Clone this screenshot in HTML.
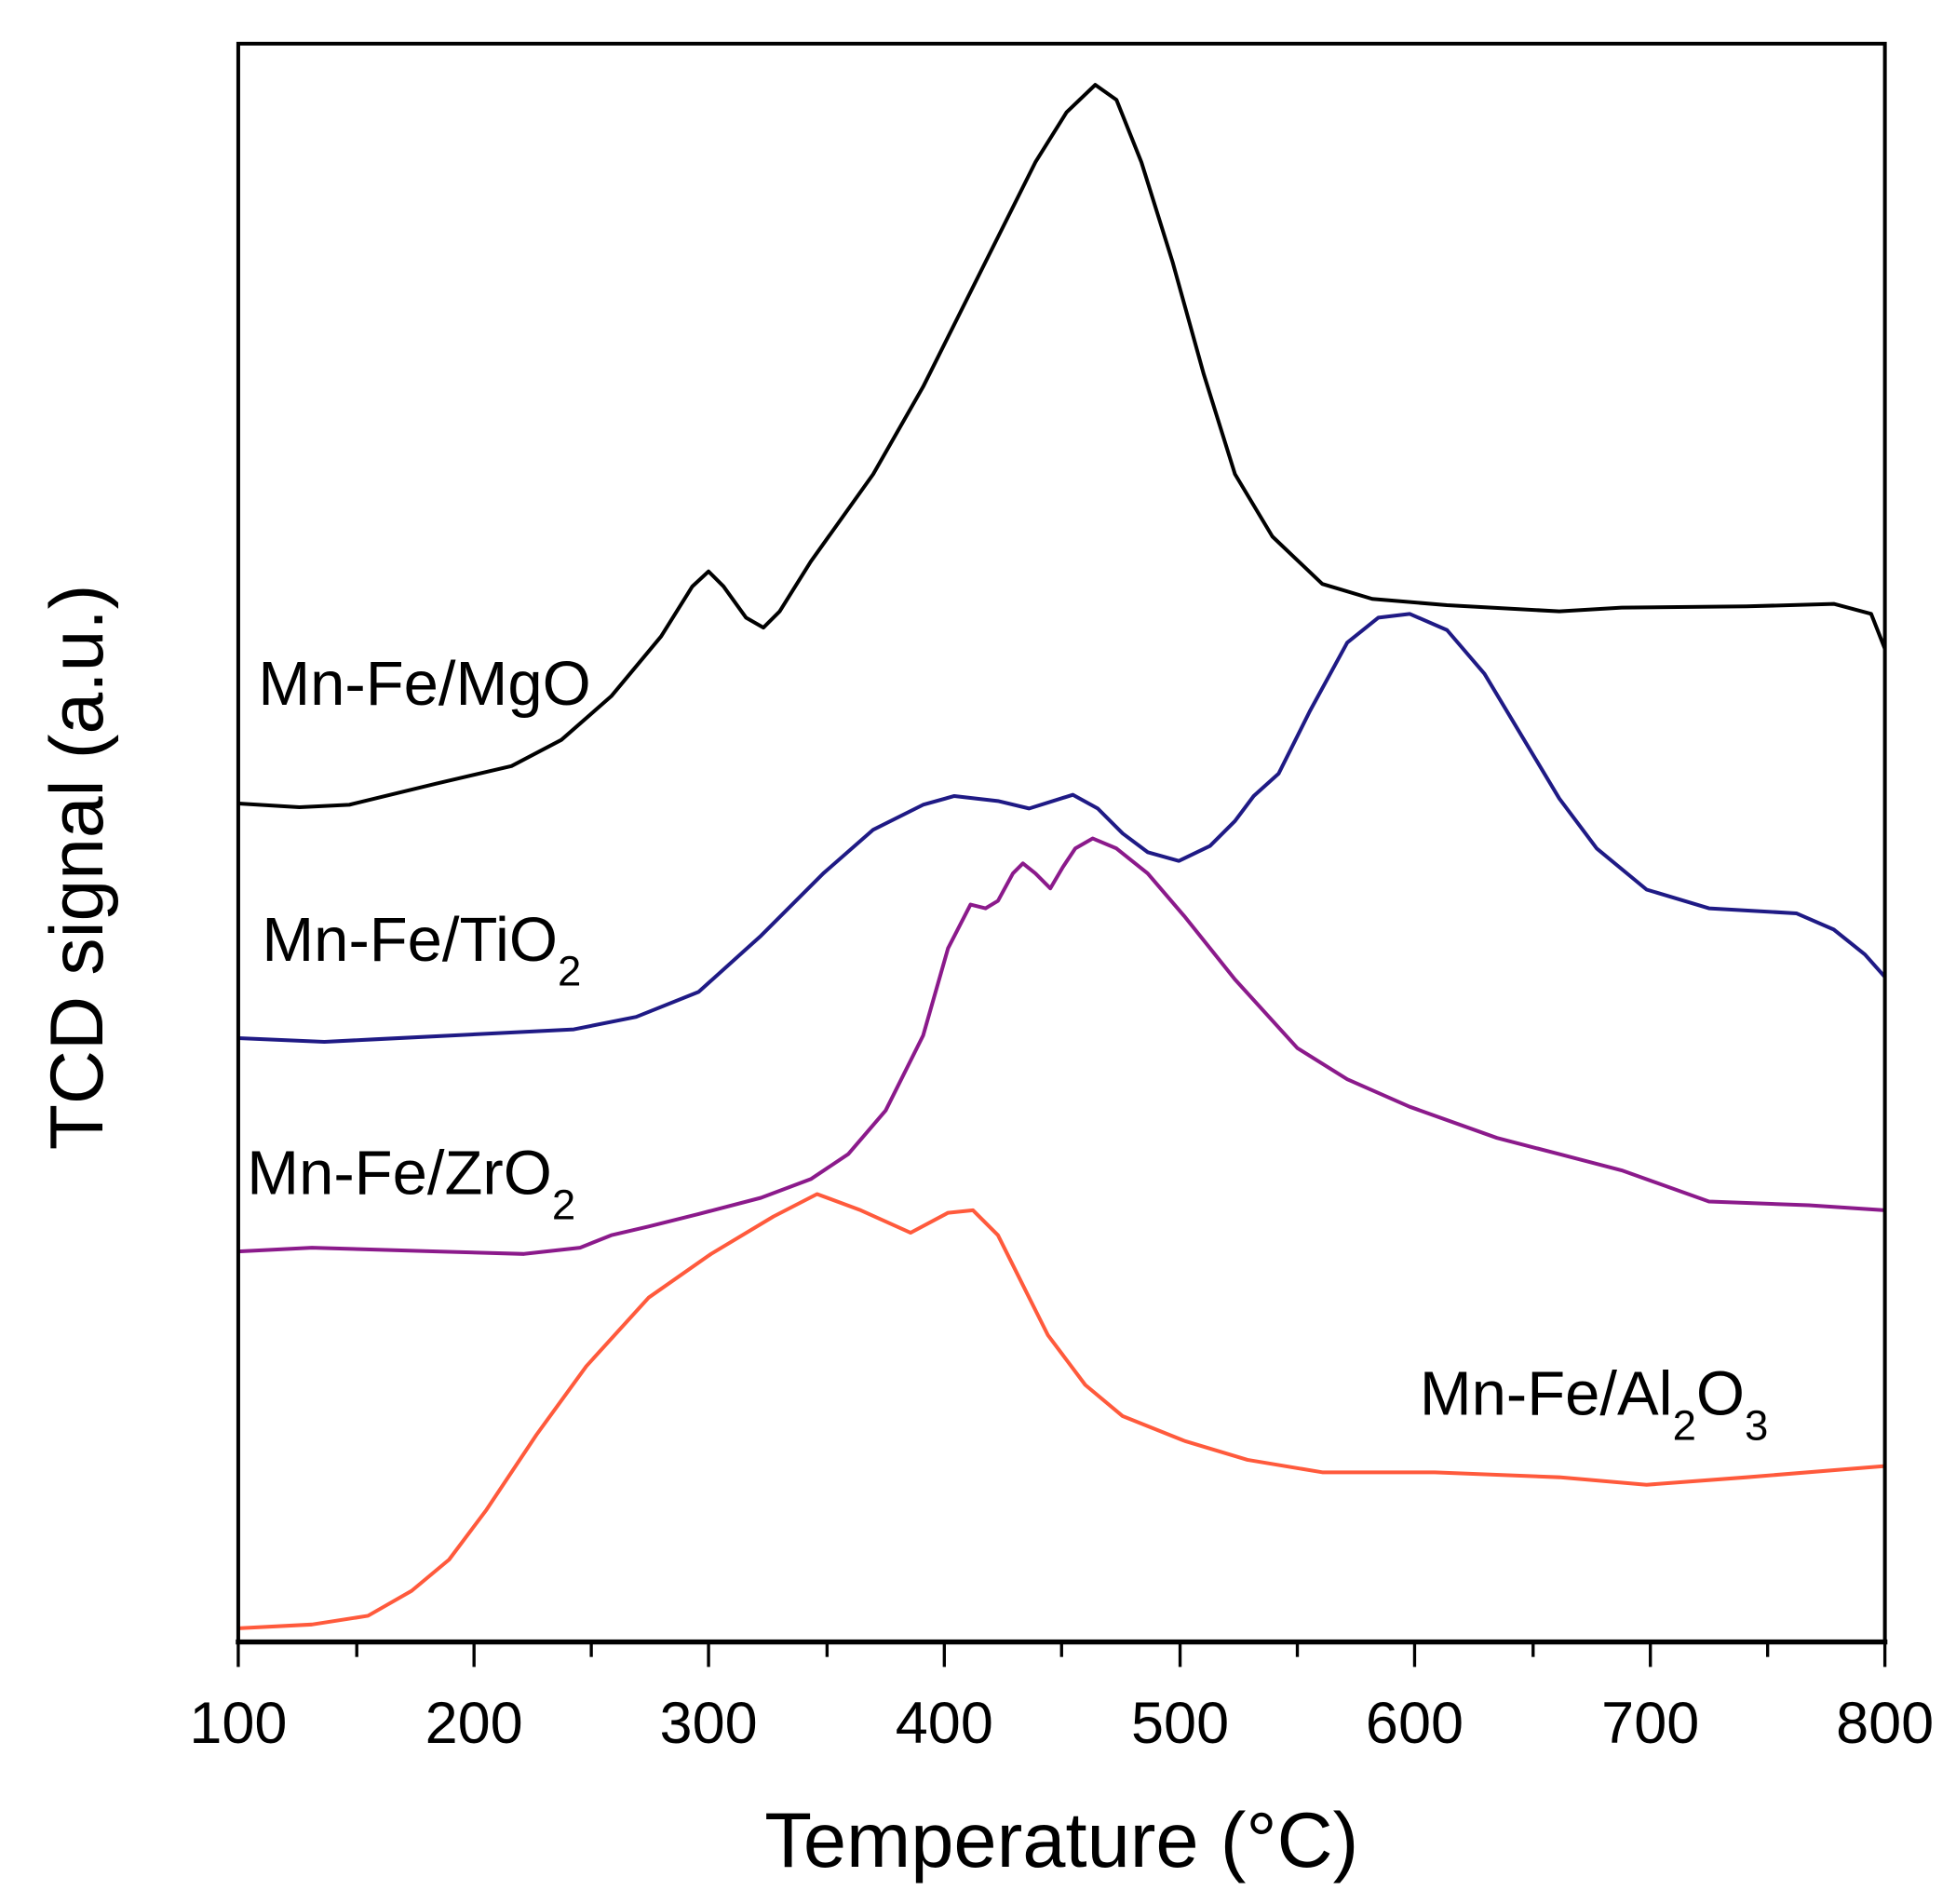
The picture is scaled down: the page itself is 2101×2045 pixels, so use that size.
<!DOCTYPE html>
<html><head><style>html,body{margin:0;padding:0;background:#fff}svg{display:block}</style></head>
<body>
<svg width="2101" height="2045" viewBox="0 0 1568 1526" preserveAspectRatio="none" xmlns="http://www.w3.org/2000/svg" font-family="Liberation Sans, Arial, sans-serif">
<rect x="0" y="0" width="1568" height="1526" fill="#fff"/>
<g fill="none" stroke-linejoin="round" stroke-width="3">
<polyline stroke="#000" points="191,644 240,647 280,645 350,628 410,614 450,593 490,558 530,510 555,470 568,458 580,470 598,495 612,503 625,490 650,450 700,380 740,310 770,250 800,190 830,130 855,90 878,68 895,80 915,130 940,210 965,300 990,380 1020,430 1060,468 1100,480 1160,485 1250,490 1300,487 1400,486 1470,484 1500,492 1511,520"/>
<polyline stroke="#1f1a85" points="191,832 260,835 300,833 400,828 460,825 510,815 560,795 610,750 660,700 700,665 740,645 765,638 800,642 825,648 860,637 880,648 900,668 920,683 945,690 970,678 990,658 1005,638 1025,620 1050,570 1080,515 1105,495 1130,492 1160,505 1190,540 1220,590 1250,640 1280,680 1320,713 1370,728 1440,732 1470,745 1495,765 1511,783"/>
<polyline stroke="#8b1a8b" points="191,1003 250,1000 350,1003 420,1005 465,1000 490,990 520,983 560,973 610,960 650,945 680,925 710,890 740,830 760,760 778,725 790,728 800,722 812,700 820,692 830,700 842,712 852,695 862,680 876,672 895,680 920,700 950,735 990,785 1040,840 1080,865 1130,887 1200,912 1250,925 1300,938 1370,963 1450,966 1511,970"/>
<polyline stroke="#ff5a3c" points="191,1305 250,1302 295,1295 330,1275 360,1250 390,1210 430,1150 470,1095 520,1040 570,1005 620,975 655,957 690,970 730,988 760,972 780,970 800,990 820,1030 840,1070 870,1110 900,1135 950,1155 1000,1170 1060,1180 1150,1180 1250,1184 1320,1190 1400,1184 1511,1175"/>
</g>
<rect x="191" y="35" width="1320" height="1281" fill="none" stroke="#000" stroke-width="3"/>
<line x1="189" y1="1316" x2="1513" y2="1316" stroke="#000" stroke-width="4"/>
<g stroke="#000" stroke-width="2.5">
<line x1="191" y1="1316" x2="191" y2="1336"/><line x1="380" y1="1316" x2="380" y2="1336"/><line x1="568" y1="1316" x2="568" y2="1336"/><line x1="757" y1="1316" x2="757" y2="1336"/><line x1="946" y1="1316" x2="946" y2="1336"/><line x1="1134" y1="1316" x2="1134" y2="1336"/><line x1="1323" y1="1316" x2="1323" y2="1336"/><line x1="1511" y1="1316" x2="1511" y2="1336"/>
<line x1="286" y1="1316" x2="286" y2="1328"/><line x1="474" y1="1316" x2="474" y2="1328"/><line x1="663" y1="1316" x2="663" y2="1328"/><line x1="851" y1="1316" x2="851" y2="1328"/><line x1="1040" y1="1316" x2="1040" y2="1328"/><line x1="1229" y1="1316" x2="1229" y2="1328"/><line x1="1417" y1="1316" x2="1417" y2="1328"/>
</g>
<g font-size="47" text-anchor="middle" fill="#000">
<text x="191" y="1397">100</text><text x="380" y="1397">200</text><text x="568" y="1397">300</text><text x="757" y="1397">400</text><text x="946" y="1397">500</text><text x="1134" y="1397">600</text><text x="1323" y="1397">700</text><text x="1511" y="1397">800</text>
</g>
<text x="851" y="1496" font-size="62" text-anchor="middle">Temperature (°C)</text>
<text transform="translate(82,695) rotate(-90)" font-size="60" text-anchor="middle">TCD signal (a.u.)</text>
<g font-size="50" fill="#000">
<text x="207" y="565">Mn-Fe/MgO</text>
<text x="210" y="770">Mn-Fe/TiO<tspan font-size="34" dy="20">2</tspan></text>
<text x="198" y="957">Mn-Fe/ZrO<tspan font-size="34" dy="20">2</tspan></text>
<text x="1138" y="1134">Mn-Fe/Al<tspan font-size="34" dy="20">2</tspan><tspan dy="-20">O</tspan><tspan font-size="34" dy="20">3</tspan></text>
</g>
</svg>
</body></html>
